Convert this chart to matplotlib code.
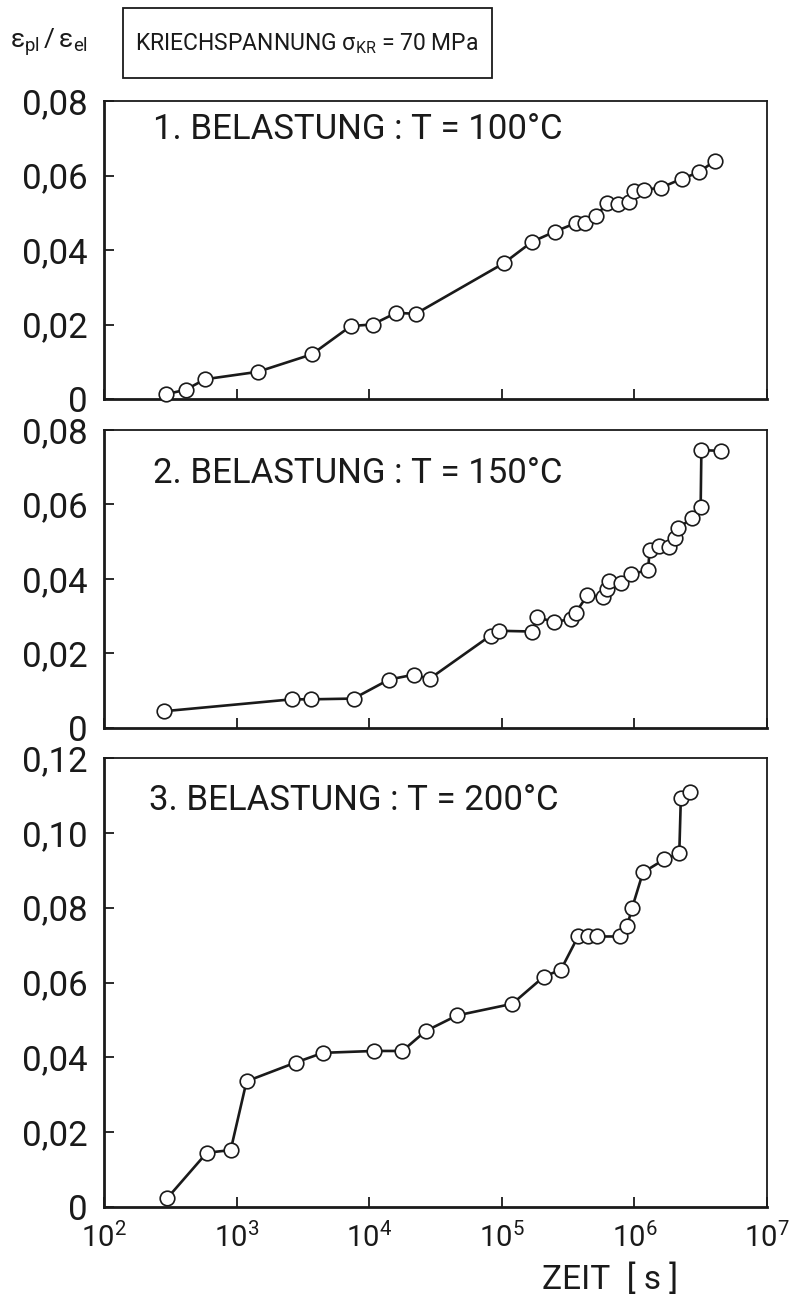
import matplotlib
matplotlib.use("Agg")
import matplotlib.pyplot as plt
from matplotlib.patches import Rectangle
from matplotlib import font_manager

plt.rcParams['font.family'] = ['Roboto', 'DejaVu Sans']
plt.rcParams['mathtext.fontset'] = 'custom'
plt.rcParams['mathtext.rm'] = 'Roboto'
plt.rcParams['mathtext.it'] = 'Roboto'
plt.rcParams['mathtext.bf'] = 'Roboto'

_names = {f.name for f in font_manager.fontManager.ttflist}
NARROW = 'Liberation Sans Narrow' if 'Liberation Sans Narrow' in _names else None

# ---------------- data ----------------
t1 = [296, 414, 578, 1445, 3700, 7280, 10600, 15900, 22500, 103000, 169000,
      250000, 365000, 421000, 515000, 619000, 758000, 912000, 1.0e6, 1.19e6,
      1.58e6, 2.27e6, 3.08e6, 4.05e6]
e1 = [0.0013, 0.0025, 0.0053, 0.0073, 0.0120, 0.0196, 0.0200, 0.0231, 0.0229,
      0.0364, 0.0422, 0.0449, 0.0473, 0.0473, 0.0490, 0.0526, 0.0524, 0.0530,
      0.0558, 0.0562, 0.0567, 0.0591, 0.0609, 0.0640]

t2 = [283, 2610, 3650, 7620, 14100, 21600, 28500, 82200, 94600, 169000,
      185000, 248000, 331000, 361000, 442000, 580000, 626000, 644000, 788000,
      949000, 1.27e6, 1.30e6, 1.52e6, 1.81e6, 2.04e6, 2.14e6, 2.72e6, 3.16e6,
      3.2e6, 4.48e6]
e2 = [0.0045, 0.0077, 0.0077, 0.0079, 0.0130, 0.0143, 0.0132, 0.0248, 0.0261,
      0.0259, 0.0297, 0.0285, 0.0292, 0.0310, 0.0356, 0.0353, 0.0374, 0.0395,
      0.0389, 0.0413, 0.0424, 0.0477, 0.0488, 0.0486, 0.0510, 0.0537, 0.0563,
      0.0593, 0.0746, 0.0744]

t3 = [299, 596, 902, 1189, 2786, 4470, 10800, 17800, 26600, 46000, 120000,
      208000, 279000, 376000, 447000, 526000, 773000, 883000, 962000, 1.16e6,
      1.68e6, 2.18e6, 2.24e6, 2.64e6]
e3 = [0.0023, 0.0145, 0.0152, 0.0336, 0.0386, 0.0412, 0.0417, 0.0417, 0.0470,
      0.0512, 0.0543, 0.0616, 0.0634, 0.0723, 0.0725, 0.0723, 0.0723, 0.0752,
      0.0800, 0.0894, 0.0929, 0.0945, 0.1093, 0.1110]

titles = ["1. BELASTUNG : T = 100°C",
          "2. BELASTUNG : T = 150°C",
          "3. BELASTUNG : T = 200°C"]

yticks_12 = [0, 0.02, 0.04, 0.06, 0.08]
ylabels_12 = ["0", "0,02", "0,04", "0,06", "0,08"]
yticks_3 = [0, 0.02, 0.04, 0.06, 0.08, 0.10, 0.12]
ylabels_3 = ["0", "0,02", "0,04", "0,06", "0,08", "0,10", "0,12"]
xticks = [1e2, 1e3, 1e4, 1e5, 1e6, 1e7]
xlabels = [r"$10^{2}$", r"$10^{3}$", r"$10^{4}$", r"$10^{5}$", r"$10^{6}$", r"$10^{7}$"]

ylabel_text = r"$\mathrm{ε_{pl}\,/\,ε_{el}}$"
header_text = r"KRIECHSPANNUNG σ$_{\mathrm{KR}}$ = 70 MPa"
xlabel_text = "ZEIT  [ s ]"

# ---------------- figure ----------------
W, H = 791, 1305
fig = plt.figure(figsize=(W / 100, H / 100), dpi=100)

def fx(px):
    return px / W

def fy(py):
    return 1 - py / H

left, right = 104, 767
panels = [  # (top px, bottom px)
    (101, 399),
    (430, 728),
    (758, 1207),
]
title_pos = [(0.074, 0.872), (0.074, 0.822), (0.068, 0.884)]
data = [(t1, e1), (t2, e2), (t3, e3)]
ylims = [(0, 0.08), (0, 0.08), (0, 0.12)]
yt = [(yticks_12, ylabels_12), (yticks_12, ylabels_12), (yticks_3, ylabels_3)]

for i, ((top, bot), (tx, ey)) in enumerate(zip(panels, data)):
    ax = fig.add_axes([fx(left), fy(bot), (right - left) / W, (bot - top) / H])
    ax.plot(tx, ey, color='#1a1a1a', lw=1.9, marker='o', ms=10.5,
            mfc='white', mec='#1a1a1a', mew=1.2, zorder=3, clip_on=False)
    ax.set_xscale('log')
    ax.set_xlim(1e2, 1e7)
    ax.set_ylim(*ylims[i])
    ax.set_xticks(xticks)
    ax.xaxis.set_minor_locator(matplotlib.ticker.NullLocator())
    ax.set_yticks(yt[i][0])
    ax.set_yticklabels(yt[i][1])
    if i == 2:
        ax.set_xticklabels(xlabels)
    else:
        ax.set_xticklabels([])
    ax.tick_params(axis='both', direction='in', length=7, width=1.3,
                   colors='#1a1a1a')
    ax.tick_params(axis='y', pad=12, labelsize=25)
    ax.tick_params(axis='x', pad=11, labelsize=21)
    for s in ['left', 'bottom']:
        ax.spines[s].set_linewidth(2.0)
    for s in ['top', 'right']:
        ax.spines[s].set_linewidth(1.3)
    for s in ax.spines.values():
        s.set_color('#1a1a1a')
    ax.text(title_pos[i][0], title_pos[i][1], titles[i], transform=ax.transAxes,
            fontsize=25, color='#1a1a1a', ha='left', va='baseline')

# header
fig.text(fx(10), fy(42), ylabel_text, fontsize=19, color='#1a1a1a',
         ha='left', va='center')
fig.patches.append(Rectangle((fx(123), fy(78)), (492 - 123) / W, 70 / H,
                             transform=fig.transFigure, fill=False,
                             lw=1.3, ec='#1a1a1a'))
if NARROW:
    fig.text(fx(307), fy(44), header_text, fontsize=21, color='#1a1a1a',
             ha='center', va='center', family=[NARROW, 'DejaVu Sans'])
else:
    fig.text(fx(307), fy(44), header_text, fontsize=16.5, color='#1a1a1a',
             ha='center', va='center')
fig.text(fx(610), fy(1280), xlabel_text, fontsize=24, color='#1a1a1a',
         ha='center', va='center')

fig.savefig("out.png", dpi=100)
